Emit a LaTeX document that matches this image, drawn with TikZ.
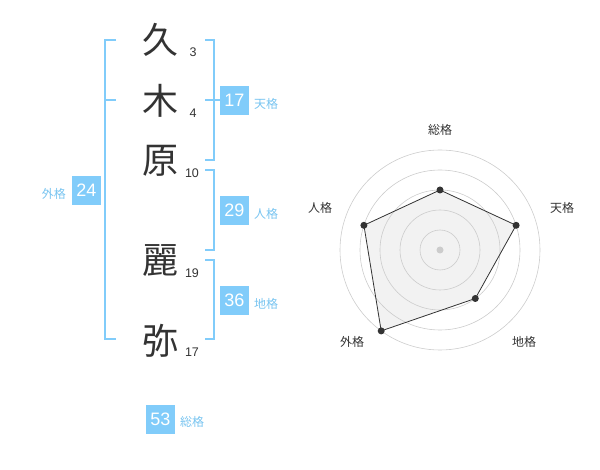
\documentclass[tikz,border=0pt]{standalone}
\usepackage{fontspec}
\setmainfont{Liberation Sans}
\newfontfamily\cjk{Noto Sans CJK JP}
\definecolor{boxblue}{RGB}{129,204,250}
\definecolor{lblblue}{RGB}{120,196,240}
\definecolor{txtgray}{RGB}{51,51,51}
\definecolor{ringgray}{RGB}{204,204,204}
\definecolor{fillgray}{RGB}{242,242,242}
\tikzset{
  bigchar/.style={inner sep=0pt, text=txtgray, font=\cjk\fontsize{36}{36}\selectfont},
  strokes/.style={inner sep=0pt, text=txtgray, font=\fontsize{12.5}{13}\selectfont},
  numbox/.style={fill=boxblue, text=white, minimum width=29pt, minimum height=29pt, inner sep=0pt, font=\fontsize{18}{18}\selectfont},
  kaku/.style={inner sep=0pt, text=lblblue, font=\cjk\fontsize{12}{12}\selectfont},
  brk/.style={draw=boxblue, line width=1.5pt},
  ring/.style={draw=ringgray, line width=0.6pt},
  axislbl/.style={inner sep=0pt, text=txtgray, font=\cjk\fontsize{12}{12}\selectfont},
  dot/.style={circle, fill=txtgray, inner sep=0pt, minimum size=7pt},
}
\begin{document}
\begin{tikzpicture}[x=1pt,y=-1pt]
\useasboundingbox (0,0) rectangle (600,470);
% big characters
\node[bigchar] (c1) at (160,40) {久};
\node[bigchar] (c2) at (160,101) {木};
\node[bigchar] (c3) at (160,161) {原};
\node[bigchar] (c4) at (160,261) {麗};
\node[bigchar] (c5) at (160,341) {弥};
% stroke counts
\node[strokes] (s1) at (193,52) {3};
\node[strokes] (s2) at (193,113) {4};
\node[strokes] (s3) at (192,173) {10};
\node[strokes] (s4) at (192,273) {19};
\node[strokes] (s5) at (192,352) {17};
% brackets
\coordinate (lt) at (116,40);
\coordinate (lm) at (116,100);
\coordinate (lb) at (116,339);
\draw[brk] (lt) -- (105,40) -- (105,339) -- (lb);
\draw[brk] (105,100) -- (lm);
\coordinate (tt) at (205,40);
\coordinate (tm) at (205,100);
\coordinate (tb) at (205,160);
\draw[brk] (tt) -- (214,40) -- (214,160) -- (tb);
\draw[brk] (tm) -- (220,100);
\coordinate (jt) at (205,170);
\coordinate (jb) at (205,250);
\draw[brk] (jt) -- (214,170) -- (214,250) -- (jb);
\coordinate (ct) at (205,260);
\coordinate (cb) at (205,339);
\draw[brk] (ct) -- (214,260) -- (214,339) -- (cb);
% boxes and labels
\node[numbox] (b17) at (234.5,100.5) {17};
\node[kaku, anchor=west] (k17) at (254,104) {天格};
\node[numbox] (b29) at (234.5,210.5) {29};
\node[kaku, anchor=west] (k29) at (254,214) {人格};
\node[numbox] (b36) at (234.5,300.5) {36};
\node[kaku, anchor=west] (k36) at (254,304) {地格};
\node[numbox] (b24) at (86.5,190.5) {24};
\node[kaku, anchor=east] (k24) at (66,194) {外格};
\node[numbox] (b53) at (160.5,419) {53};
\node[kaku, anchor=west] (k53) at (180,422) {総格};
% radar chart
\coordinate (C) at (440,250);
\fill[fillgray] (440,190) -- (516.1,225.3) -- (475.3,298.5) -- (381.2,330.9) -- (363.9,225.3) -- cycle;
\foreach \r in {20,40,60,80,100} \draw[ring] (C) circle (\r);
\node[circle, fill=ringgray, inner sep=0pt, minimum size=7pt] (cen) at (C) {};
\node[dot] (p1) at (440,190) {};
\node[dot] (p2) at (516.1,225.3) {};
\node[dot] (p3) at (475.3,298.5) {};
\node[dot] (p4) at (381.2,330.9) {};
\node[dot] (p5) at (363.9,225.3) {};
\draw[txtgray, line width=0.8pt] (p1.center) -- (p2.center) -- (p3.center) -- (p4.center) -- (p5.center) -- cycle;
\node[axislbl] (a1) at (440,130) {総格};
\node[axislbl] (a2) at (562,208) {天格};
\node[axislbl] (a3) at (524,342) {地格};
\node[axislbl] (a4) at (352,342) {外格};
\node[axislbl] (a5) at (320,208) {人格};
\end{tikzpicture}
\end{document}
